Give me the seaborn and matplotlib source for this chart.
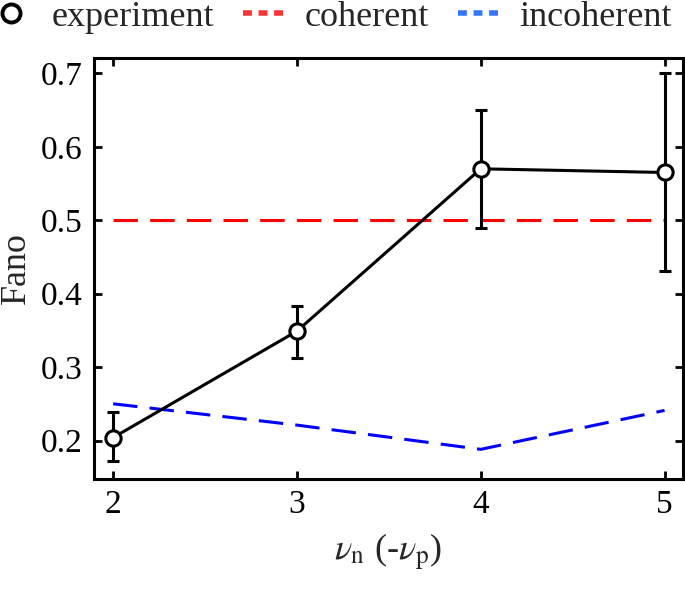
import numpy as np
import pandas as pd
import seaborn as sns
import matplotlib.pyplot as plt
from matplotlib.lines import Line2D

# data
nu = [2, 3, 4, 5]
fano = [0.204, 0.349, 0.570, 0.565]
err_lo = [0.172, 0.313, 0.490, 0.431]
err_hi = [0.239, 0.383, 0.650, 0.700]
coherent = [0.5, 0.5, 0.5, 0.5]
incoherent = [0.250, 0.221, 0.188, 0.241]

df = pd.DataFrame({"nu": nu, "fano": fano, "coherent": coherent, "incoherent": incoherent})

sns.set_theme(style="ticks")
plt.rcParams["font.family"] = ["Liberation Serif", "DejaVu Serif"]
plt.rcParams["mathtext.fontset"] = "stix"

fig = plt.figure(figsize=(6.85, 5.91), dpi=100)
ax = fig.add_axes([0.137, 0.19, 0.86, 0.712])

sns.lineplot(data=df, x="nu", y="coherent", ax=ax, color="#ff0000", lw=2.2, zorder=2)
ax.lines[-1].set_dashes((8, 4))
sns.lineplot(data=df, x="nu", y="incoherent", ax=ax, color="#0000ff", lw=2.2, zorder=2)
ax.lines[-1].set_dashes((8, 4))

yerr = np.array([np.array(fano) - np.array(err_lo), np.array(err_hi) - np.array(fano)])
ax.errorbar(nu, fano, yerr=yerr, fmt="none", ecolor="black", elinewidth=2.2,
            capsize=4.5, capthick=2.2, zorder=3)
sns.lineplot(data=df, x="nu", y="fano", ax=ax, color="black", lw=2.2, marker="o",
             markersize=11, markerfacecolor="white", markeredgecolor="black",
             markeredgewidth=2.2, zorder=4)

ax.set_xlim(1.895, 5.1)
ax.set_ylim(0.148, 0.721)
ax.set_xticks([2, 3, 4, 5])
ax.set_yticks([0.2, 0.3, 0.4, 0.5, 0.6, 0.7])
ax.set_yticklabels(["0.2", "0.3", "0.4", "0.5", "0.6", "0.7"])
ax.tick_params(direction="in", length=6, width=2, labelsize=24, top=True, right=True,
               colors="black", pad=8)
for s in ax.spines.values():
    s.set_linewidth(2.2)
    s.set_color("black")

ax.set_xlabel(r"$\nu_{\mathrm{n}}$ (-$\nu_{\mathrm{p}}$)", fontsize=26, labelpad=8)
ax.set_ylabel("Fano", fontsize=26, labelpad=6)

handles = [
    Line2D([], [], ls="none", marker="o", markersize=13, markerfacecolor="white",
           markeredgecolor="black", markeredgewidth=2.8),
    Line2D([], [], color="#ff3333", lw=4, dashes=(1.6, 1.2)),
    Line2D([], [], color="#3377ff", lw=4, dashes=(1.6, 1.2)),
]
fig.legend(handles, ["experiment", "coherent", "incoherent"], loc="upper left",
           bbox_to_anchor=(-0.014, 0.999), ncol=3, frameon=False, fontsize=26,
           borderpad=0, borderaxespad=0,
           handlelength=1.15, handletextpad=0.55, columnspacing=0.8)

fig.savefig("out.png", dpi=100)
